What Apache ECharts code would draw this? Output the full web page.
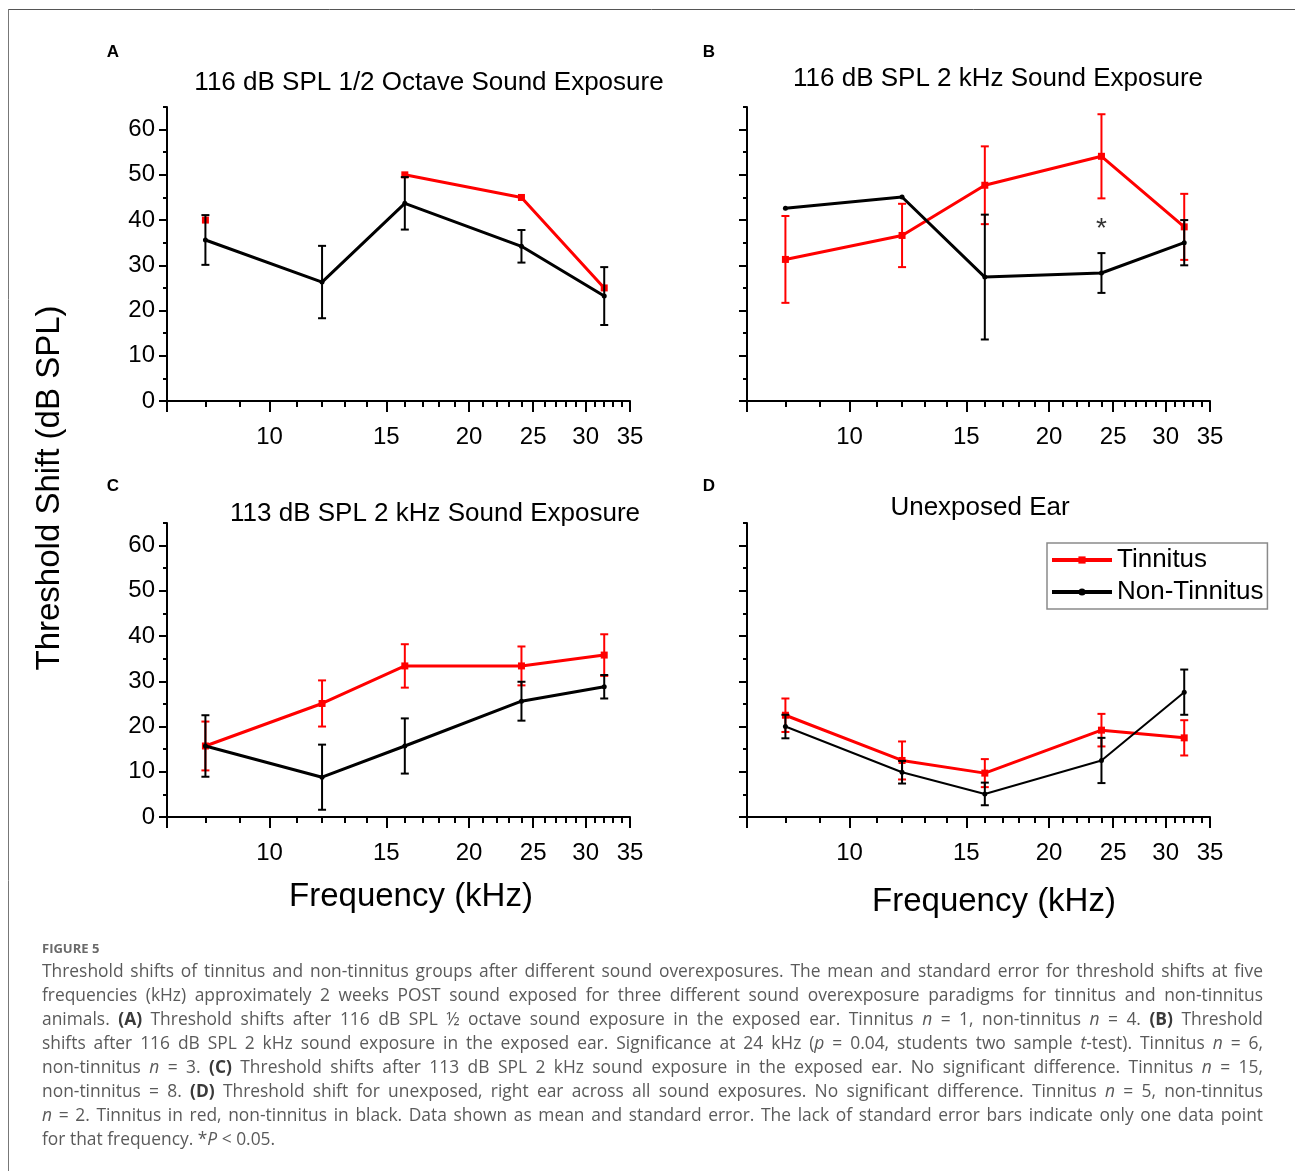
<!DOCTYPE html>
<html>
<head>
<meta charset="utf-8">
<script src="https://cdn.jsdelivr.net/npm/echarts@6.0.0/dist/echarts.min.js"></script>
<style>
  html, body { margin: 0; padding: 0; background: #fff; }
  #chart { width: 1295px; height: 1171px; }
</style>
</head>
<body>
<div id="chart"></div>
<script>
// frequencies (kHz) and axis ticks
var freqs = [8, 12, 16, 24, 32]
var majorTicks = [7, 10, 15, 20, 25, 30, 35]
var tickLabels = [10, 15, 20, 25, 30, 35]
var minorTicks = [8, 9, 11, 12, 13, 14, 16, 17, 18, 19, 21, 22, 23, 24, 26, 27, 28, 29, 31, 32, 33, 34]
var yTicks = [0, 10, 20, 30, 40, 50, 60]
var yMinorTicks = [5, 15, 25, 35, 45, 55, 65]

var titles = [
  '116 dB SPL 1/2 Octave Sound Exposure',
  '116 dB SPL 2 kHz Sound Exposure',
  '113 dB SPL 2 kHz Sound Exposure',
  'Unexposed Ear'
]
var letters = ['A', 'B', 'C', 'D']

// A: 116 dB 1/2 octave
var aTin = [40, null, 50, 45, 25]
var aTinErr = [null, null, null, null, null]
var aNon = [35.6, 26.3, 43.7, 34.2, 23.2]
var aNonErr = [5.5, 8, 5.8, 3.6, 6.4]
// B: 116 dB 2 kHz
var bTin = [31.3, 36.6, 47.7, 54.1, 38.5]
var bTinErr = [9.6, 7, 8.6, 9.3, 7.3]
var bNon = [42.6, 45.1, 27.4, 28.3, 35.0]
var bNonErr = [null, null, 13.8, 4.4, 5]
var bStar = [[24, 37.9]]
// C: 113 dB 2 kHz
var cTin = [15.7, 25.1, 33.4, 33.4, 35.8]
var cTinErr = [5.4, 5.1, 4.8, 4.3, 4.6]
var cNon = [15.7, 8.8, 15.7, 25.6, 28.8]
var cNonErr = [6.8, 7.2, 6.1, 4.3, 2.6]
// D: unexposed ear
var dTin = [22.5, 12.5, 9.7, 19.2, 17.5]
var dTinErr = [3.7, 4.2, 3.1, 3.6, 3.9]
var dNon = [20.0, 9.9, 5.1, 12.5, 27.6]
var dNonErr = [2.6, 2.5, 2.5, 5, 5]

var captionHead = 'FIGURE 5'
var captionLines = [
  'Threshold shifts of tinnitus and non-tinnitus groups after different sound overexposures. The mean and standard error for threshold shifts at five',
  'frequencies (kHz) approximately 2 weeks POST sound exposed for three different sound overexposure paradigms for tinnitus and non-tinnitus',
  'animals. {b|(A)} Threshold shifts after 116 dB SPL \u00bd octave sound exposure in the exposed ear. Tinnitus {i|n} = 1, non-tinnitus {i|n} = 4. {b|(B)} Threshold',
  'shifts after 116 dB SPL 2 kHz sound exposure in the exposed ear. Significance at 24 kHz ({i|p} = 0.04, students two sample {i|t}-test). Tinnitus {i|n} = 6,',
  'non-tinnitus {i|n} = 3. {b|(C)} Threshold shifts after 113 dB SPL 2 kHz sound exposure in the exposed ear. No significant difference. Tinnitus {i|n} = 15,',
  'non-tinnitus = 8. {b|(D)} Threshold shift for unexposed, right ear across all sound exposures. No significant difference. Tinnitus {i|n} = 5, non-tinnitus',
  '{i|n} = 2. Tinnitus in red, non-tinnitus in black. Data shown as mean and standard error. The lack of standard error bars indicate only one data point',
  'for that frequency. *{i|P} < 0.05.'
]

// layout
var font = '"Liberation Sans", Arial, sans-serif'
var capFont = '"Open Sans", "Noto Sans", sans-serif'
var gridPos = [[167, 107], [747, 107], [167, 523], [747, 523]]
var gridW = 463
var gridH = 294
var titlePos = [[429, 83], [998, 79], [435, 514], [980, 508]]
var letterPos = [[113, 52], [709, 52], [113, 486], [709, 486]]
var RED = '#ff0000'
var BLACK = '#000000'

var panels = [
  {tin: aTin, tinErr: aTinErr, non: aNon, nonErr: aNonErr, yLabels: true, nonWidth: 3},
  {tin: bTin, tinErr: bTinErr, non: bNon, nonErr: bNonErr, yLabels: false, nonWidth: 3},
  {tin: cTin, tinErr: cTinErr, non: cNon, nonErr: cNonErr, yLabels: true, nonWidth: 3},
  {tin: dTin, tinErr: dTinErr, non: dNon, nonErr: dNonErr, yLabels: false, nonWidth: 2}
]

var lg = Math.log10

function pts(vals) {
  return freqs.map(function(f, k) {
    return [lg(f), vals[k] == null ? '-' : vals[k]]
  })
}

function bars(vals, errs) {
  var out = []
  freqs.forEach(function(f, k) {
    if (errs[k] != null && vals[k] != null) {
      out.push([lg(f), vals[k] - errs[k], vals[k] + errs[k]])
    }
  })
  return out
}

function errRender(color) {
  return function(params, api) {
    var lo = api.coord([api.value(0), api.value(1)])
    var hi = api.coord([api.value(0), api.value(2)])
    var w = 4
    var st = {stroke: color, lineWidth: 2}
    return {
      type: 'group',
      children: [
        {type: 'line', shape: {x1: lo[0], y1: lo[1], x2: hi[0], y2: hi[1]}, style: st},
        {type: 'line', shape: {x1: lo[0] - w, y1: lo[1], x2: lo[0] + w, y2: lo[1]}, style: st},
        {type: 'line', shape: {x1: hi[0] - w, y1: hi[1], x2: hi[0] + w, y2: hi[1]}, style: st}
      ]
    }
  }
}

var grids = []
var xAxes = []
var yAxes = []
var series = []

panels.forEach(function(p, i) {
  grids.push({
    left: gridPos[i][0], top: gridPos[i][1], width: gridW, height: gridH,
    containLabel: false, outerBoundsMode: 'none'
  })
  // major x axis
  xAxes.push({
    gridIndex: i, type: 'value', position: 'bottom', min: lg(7), max: lg(35),
    axisLine: {show: true, onZero: false, lineStyle: {color: BLACK, width: 2}},
    axisTick: {show: true, inside: false, length: 11, customValues: majorTicks.map(lg), lineStyle: {color: BLACK, width: 2}},
    axisLabel: {
      show: true, customValues: tickLabels.map(lg), margin: 24,
      fontSize: 24, fontFamily: font, color: BLACK,
      formatter: function(v) { return Math.round(Math.pow(10, v)) }
    },
    splitLine: {show: false}
  })
  // minor x ticks
  xAxes.push({
    gridIndex: i, type: 'value', position: 'bottom', offset: 0, min: lg(7), max: lg(35),
    axisLine: {show: false, onZero: false},
    axisTick: {show: true, inside: false, length: 6, customValues: minorTicks.map(lg), lineStyle: {color: BLACK, width: 2}},
    axisLabel: {show: false},
    splitLine: {show: false}
  })
  yAxes.push({
    gridIndex: i, type: 'value', position: 'left', min: 0, max: 65,
    axisLine: {show: true, onZero: false, lineStyle: {color: BLACK, width: 2}},
    axisTick: {show: true, inside: false, length: 8, customValues: yTicks, lineStyle: {color: BLACK, width: 2}},
    axisLabel: {show: p.yLabels, customValues: yTicks, margin: 12, fontSize: 24, fontFamily: font, color: BLACK},
    splitLine: {show: false}
  })
  // minor y ticks
  yAxes.push({
    gridIndex: i, type: 'value', position: 'left', offset: 0, min: 0, max: 65,
    axisLine: {show: false, onZero: false},
    axisTick: {show: true, inside: false, length: 4, customValues: yMinorTicks, lineStyle: {color: BLACK, width: 2}},
    axisLabel: {show: false},
    splitLine: {show: false}
  })

  var xi = i * 2
  var yi = i * 2
  series.push({
    name: 'Tinnitus err', type: 'custom', xAxisIndex: xi, yAxisIndex: yi,
    renderItem: errRender(RED), data: bars(p.tin, p.tinErr), encode: {x: 0, y: [1, 2]}, z: 3
  })
  series.push({
    name: 'Tinnitus', type: 'line', xAxisIndex: xi, yAxisIndex: yi,
    data: pts(p.tin), connectNulls: false,
    symbol: 'rect', symbolSize: 7, showAllSymbol: true,
    lineStyle: {color: RED, width: 3}, itemStyle: {color: RED}, z: 4
  })
  series.push({
    name: 'Non-Tinnitus err', type: 'custom', xAxisIndex: xi, yAxisIndex: yi,
    renderItem: errRender(BLACK), data: bars(p.non, p.nonErr), encode: {x: 0, y: [1, 2]}, z: 5
  })
  series.push({
    name: 'Non-Tinnitus', type: 'line', xAxisIndex: xi, yAxisIndex: yi,
    data: pts(p.non), connectNulls: false,
    symbol: 'circle', symbolSize: 5, showAllSymbol: true,
    lineStyle: {color: BLACK, width: p.nonWidth}, itemStyle: {color: BLACK}, z: 6
  })
})

// significance marker in panel B
series.push({
  name: 'sig', type: 'scatter', xAxisIndex: 2, yAxisIndex: 2,
  data: bStar.map(function(d) { return [lg(d[0]), d[1]] }),
  symbolSize: 1, itemStyle: {color: 'rgba(0,0,0,0)'},
  label: {show: true, position: 'inside', formatter: '*', fontSize: 28, fontFamily: font, color: BLACK},
  z: 7
})

var graphics = []
// frame lines
graphics.push({type: 'line', shape: {x1: 8, y1: 9.5, x2: 1295, y2: 9.5}, style: {stroke: '#555', lineWidth: 1}})
graphics.push({type: 'line', shape: {x1: 8.5, y1: 9, x2: 8.5, y2: 1171}, style: {stroke: '#777', lineWidth: 1}})

letters.forEach(function(l, i) {
  graphics.push({
    type: 'text', x: letterPos[i][0], y: letterPos[i][1],
    style: {text: l, fontSize: 17, fontWeight: 'bold', fontFamily: font, fill: BLACK,
      align: 'center', verticalAlign: 'middle', textAlign: 'center', textVerticalAlign: 'middle'}
  })
})
titles.forEach(function(t, i) {
  graphics.push({
    type: 'text', x: titlePos[i][0], y: titlePos[i][1],
    style: {text: t, fontSize: 26, fontFamily: font, fill: BLACK,
      align: 'center', verticalAlign: 'middle', textAlign: 'center', textVerticalAlign: 'middle'}
  })
})
graphics.push({
  type: 'text', x: 50, y: 488, rotation: Math.PI / 2,
  style: {text: 'Threshold Shift (dB SPL)', fontSize: 33, fontFamily: font, fill: BLACK,
    align: 'center', verticalAlign: 'middle', textAlign: 'center', textVerticalAlign: 'middle'}
})
graphics.push({
  type: 'text', x: 411, y: 897,
  style: {text: 'Frequency (kHz)', fontSize: 33, fontFamily: font, fill: BLACK,
    align: 'center', verticalAlign: 'middle', textAlign: 'center', textVerticalAlign: 'middle'}
})
graphics.push({
  type: 'text', x: 994, y: 902,
  style: {text: 'Frequency (kHz)', fontSize: 33, fontFamily: font, fill: BLACK,
    align: 'center', verticalAlign: 'middle', textAlign: 'center', textVerticalAlign: 'middle'}
})

// caption, justified word by word
var capSize = 17.4
var capColor = '#5a5a5a'
var capLeft = 42
var capRight = 1263
var capTop = 972
var capPitch = 24
var ctx = document.createElement('canvas').getContext('2d')
var richStyles = {
  b: {fontSize: capSize, fontFamily: capFont, fontWeight: 'bold', fill: '#3a3a3a'},
  i: {fontSize: capSize, fontFamily: capFont, fontStyle: 'italic', fill: capColor}
}
function wordWidth(word) {
  var re = /\{([bi])\|([^}]*)\}|([^{]+)/g
  var m
  var w = 0
  while ((m = re.exec(word)) !== null) {
    if (m[1]) {
      ctx.font = (m[1] === 'i' ? 'italic ' : 'bold ') + capSize + 'px ' + capFont
      w += ctx.measureText(m[2]).width
    } else {
      ctx.font = capSize + 'px ' + capFont
      w += ctx.measureText(m[3]).width
    }
  }
  return w
}
graphics.push({
  type: 'text', x: capLeft, y: 949,
  style: {text: captionHead, fontSize: 13, fontWeight: 'bold', fontFamily: capFont, fill: '#6a6a6a',
    verticalAlign: 'middle', textVerticalAlign: 'middle'}
})
captionLines.forEach(function(line, li) {
  var words = line.split(' ')
  var widths = words.map(wordWidth)
  var total = widths.reduce(function(a, b) { return a + b }, 0)
  ctx.font = capSize + 'px ' + capFont
  var gap = ctx.measureText(' ').width
  if (li < captionLines.length - 1 && words.length > 1) {
    gap = (capRight - capLeft - total) / (words.length - 1)
  }
  var x = capLeft
  words.forEach(function(w, k) {
    graphics.push({
      type: 'text', x: x, y: capTop + li * capPitch,
      style: {text: w, rich: richStyles, fontSize: capSize, fontFamily: capFont, fill: capColor,
        verticalAlign: 'middle', textVerticalAlign: 'middle'}
    })
    x += widths[k] + gap
  })
})

var chart = echarts.init(document.getElementById('chart'))
var option = {
  animation: false,
  backgroundColor: '#fff',
  grid: grids,
  xAxis: xAxes,
  yAxis: yAxes,
  legend: {
    data: ['Tinnitus', 'Non-Tinnitus'],
    orient: 'vertical',
    left: 1047, top: 543,
    backgroundColor: '#fff',
    borderColor: '#8a8a8a', borderWidth: 1.5,
    padding: [4, 4, 4, 3],
    itemWidth: 60, itemHeight: 9, itemGap: 6,
    lineStyle: {width: 4},
    textStyle: {fontSize: 26, lineHeight: 26, fontFamily: font, color: BLACK},
    selectedMode: false
  },
  series: series,
  graphic: graphics
}
chart.setOption(option)
</script>
</body>
</html>
